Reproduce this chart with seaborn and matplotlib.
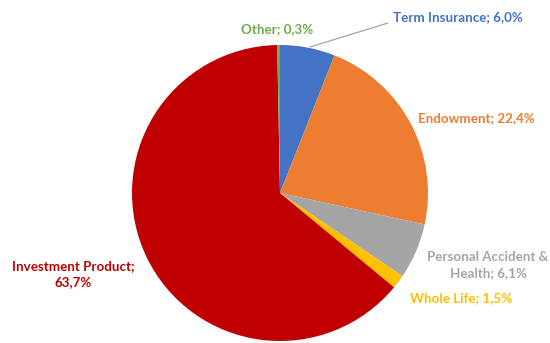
import matplotlib
matplotlib.use("Agg")
import matplotlib.pyplot as plt
import seaborn as sns

categories = ["Term Insurance", "Endowment", "Personal Accident & Health",
              "Whole Life", "Investment Product", "Other"]
values = [6.0, 22.4, 6.1, 1.5, 63.7, 0.3]
label_texts = ["Term Insurance; 6,0%", "Endowment; 22,4%",
               "Personal Accident &\nHealth; 6,1%", "Whole Life; 1,5%",
               "Investment Product;\n63,7%", "Other; 0,3%"]
colors = ["#4472C4", "#ED7D31", "#A5A5A5", "#FFC000", "#C00000", "#70AD47"]
label_colors = ["#4472C4", "#ED7D31", "#A5A5A5", "#FFC000", "#C00000", "#70AD47"]

sns.set_theme(style="white")
plt.rcParams['font.family'] = ['Lato', 'DejaVu Sans']

W, H = 550, 343
fig = plt.figure(figsize=(W / 100, H / 100), dpi=100)
ax = fig.add_axes([0, 0, 1, 1])

cx, cy, r = 280, 193, 148
# y axis is inverted (pixel coords), so start at -90 with counterclock=True
# to get a clockwise pie starting at 12 o'clock on screen
wedges, _ = ax.pie(values, colors=colors, startangle=-90, counterclock=True,
                   center=(cx, cy), radius=r, frame=True,
                   wedgeprops=dict(linewidth=0))
ax.set_xlim(0, W)
ax.set_ylim(H, 0)
ax.set_aspect("equal")
ax.axis("off")

pos = [(458, 17), (476, 118), (488, 265), (461, 298), (73, 274), (277, 29)]
for txt, (x, y), c in zip(label_texts, pos, label_colors):
    ax.text(x, y, txt, color=c, ha="center", va="center", fontsize=9.6,
            fontweight="bold", linespacing=1.35)

ax.plot([310, 388], [47, 23], color="#A5A5A5", lw=0.9)

fig.savefig("out.png", dpi=100)
